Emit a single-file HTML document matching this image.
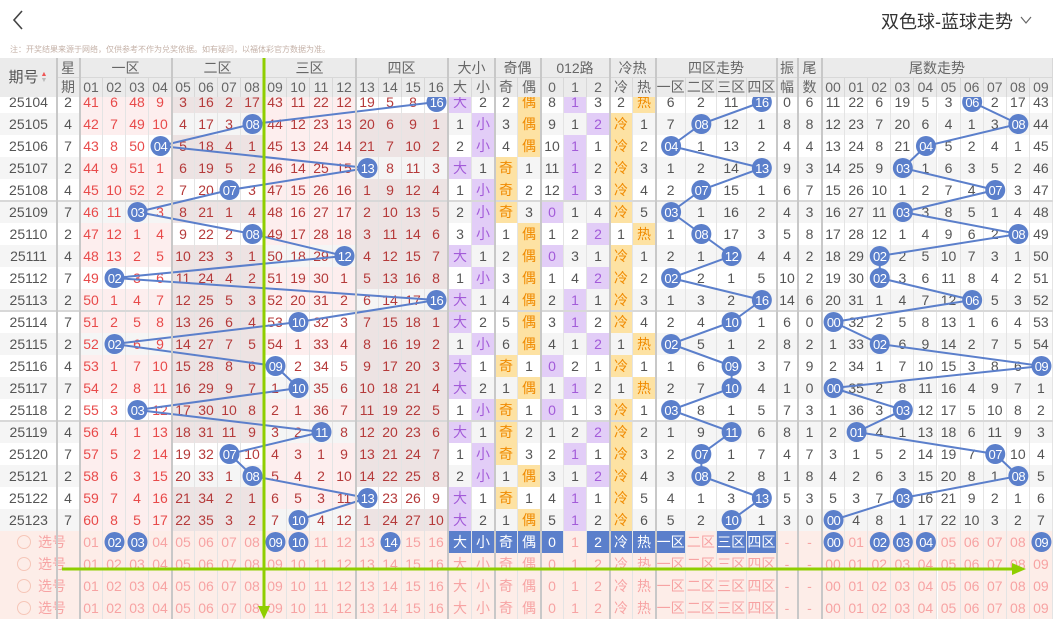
<!DOCTYPE html>
<html><head><meta charset="utf-8">
<style>
body{margin:0;width:1053px;height:619px;overflow:hidden;position:relative;background:#fff;font-family:"Liberation Sans","Noto Sans CJK SC",sans-serif}
.c{position:absolute;box-sizing:border-box;border-right:1px solid #e4e4e4;text-align:center;font-size:14px;line-height:22px;white-space:nowrap;overflow:hidden}
.h{position:absolute;box-sizing:border-box;text-align:center;font-size:14px;color:#666;white-space:nowrap;border-right:1px solid #d8d8d8}
.vl{position:absolute;width:2px;background:#c8c8c8}
.hl{position:absolute;height:2px;background:#d8d8d8;left:0;width:1053px}
</style></head><body>
<div style="position:absolute;left:0;top:0;width:1053px;height:40px;background:#fff"></div>
<svg style="position:absolute;left:10px;top:8px" width="16" height="24"><polyline points="12,3 4,12 12,21" fill="none" stroke="#444" stroke-width="1.6"/></svg>
<div style="position:absolute;left:881px;top:8px;font-size:18px;color:#333">双色球-蓝球走势</div>
<svg style="position:absolute;left:1019px;top:14px" width="14" height="12"><polyline points="2,3 7,9 12,3" fill="none" stroke="#666" stroke-width="1.2"/></svg>
<div style="position:absolute;left:10px;top:44px;font-size:8px;color:#c5b2a8">注：开奖结果来源于网络，仅供参考不作为兑奖依据。如有疑问，以福体彩官方数据为准。</div>
<div id="root"></div>
<script>
const B=[16,8,4,13,7,3,8,12,2,16,10,2,9,10,3,11,7,8,13,10];
const WK=[2,4,7,2,4,7,2,4,7,2,7,2,4,7,2,4,7,2,4,7];
const N=B.length;
const root=document.getElementById('root');
function el(html){root.insertAdjacentHTML('beforeend',html);}
function omit(cats,init){const r=[];r.push(init.map((v,k)=>k===cats[0]?null:v));
 for(let i=1;i<N;i++){r.push(init.map((_,k)=>k===cats[i]?null:(cats[i-1]===k?1:r[i-1][k]+1)));}return r;}
const numO=omit(B.map(b=>b-1),[41,6,48,9,3,16,2,17,43,11,22,12,19,5,8,0]);
const zC=B.map(b=>Math.ceil(b/4)-1);
const zO=omit(zC,[6,2,11,0]);
const tC=B.map(b=>b%10);
const tO=omit(tC,[11,22,6,19,5,3,0,2,17,43]);
const dxC=B.map(b=>b>=9?0:1);const dxO=omit(dxC,[0,2]);
const oeC=B.map(b=>b%2?0:1);const oeO=omit(oeC,[2,0]);
const m3C=B.map(b=>b%3);const m3O=omit(m3C,[8,0,3]);
const hot=[0,6,11,13];const chC=B.map((b,i)=>hot.includes(i)?1:0);const chO=omit(chC,[2,0]);
const nx=k=>80+23*k;
const DX=[449,472],OE=[495,518],M3=[541,564,587],CH=[610,633];
const ZX=k=>656+30.25*k, TX=k=>822+23.1*k;
const PUR='background:#e2cdf7;color:#a35bd9;',YEL='background:#fde2a3;color:#f08a00;';
let svgL='',svgB='';
function ball(cx,cy,t){svgB+=`<circle cx="${cx}" cy="${cy}" r="10" fill="#5b7fcb"/><text x="${cx}" y="${cy+4.8}" text-anchor="middle" font-size="13" fill="#fff" letter-spacing="-0.5" font-family="Liberation Sans">${t}</text>`;}
const pad=v=>(v<10?'0':'')+v;
for(let i=0;i<N;i++){
 const y=91+22*i, cy=y+11, bg=i%2?'#f5f5f5':'#fff';
 el(`<div class="c" style="left:0;top:${y}px;width:57px;height:22px;background:${bg};color:#555;border:none">${25104+i}</div>`);
 el(`<div class="c" style="left:57px;top:${y}px;width:23px;height:22px;background:${bg};color:#555">${WK[i]}</div>`);
 const bz=zC[i];
 for(let k=0;k<16;k++){const z=Math.floor(k/4);
  const cb=z===bz?bg:(z%2?'#ede3e3':'#fdeeee');
  const col=z===0?'#e84a4a':'#b53a3a';
  const v=numO[i][k];
  el(`<div class="c" style="left:${nx(k)}px;top:${y}px;width:23px;height:22px;background:${cb};color:${col}">${v===null?'':v}</div>`);
  if(v===null)ball(nx(k)+11.5,cy,pad(B[i]));
 }
 const grp=(xs,w,cats,O,labels,sty)=>{xs.forEach((x,k)=>{const hit=cats[i]===k;
  el(`<div class="c" style="left:${x}px;top:${y}px;width:${w}px;height:22px;background:${bg};color:#555;${hit?sty:''}">${hit?labels[k]:O[i][k]}</div>`);});};
 grp(DX,23,dxC,dxO,['大','小'],PUR);
 grp(OE,23,oeC,oeO,['奇','偶'],YEL);
 grp(M3,23,m3C,m3O,['0','1','2'],PUR);
 grp(CH,23,chC,chO,['冷','热'],YEL);
 for(let k=0;k<4;k++){const v=zO[i][k];
  el(`<div class="c" style="left:${ZX(k)}px;top:${y}px;width:30.25px;height:22px;background:${bg};color:#555">${v===null?'':v}</div>`);
  if(v===null)ball(ZX(k)+15.1,cy,pad(B[i]));}
 const zf=i===0?0:Math.abs(B[i]-B[i-1]);
 el(`<div class="c" style="left:777px;top:${y}px;width:21px;height:22px;background:${bg};color:#555">${zf}</div>`);
 el(`<div class="c" style="left:798px;top:${y}px;width:24px;height:22px;background:${bg};color:#555">${B[i]%10}</div>`);
 for(let k=0;k<10;k++){const v=tO[i][k];
  el(`<div class="c" style="left:${TX(k)}px;top:${y}px;width:23.1px;height:22px;background:${bg};color:#555">${v===null?'':v}</div>`);
  if(v===null)ball(TX(k)+11.55,cy,pad(k));}
}
// lines
const pl=(f)=>B.map((b,i)=>f(b,i)+','+(102+22*i)).join(' ');
svgL+=`<polyline points="${pl(b=>nx(b-1)+11.5)}" fill="none" stroke="#5b7fcb" stroke-width="2"/>`;
svgL+=`<polyline points="${pl((b,i)=>ZX(zC[i])+15.1)}" fill="none" stroke="#5b7fcb" stroke-width="2"/>`;
svgL+=`<polyline points="${pl((b,i)=>TX(tC[i])+11.55)}" fill="none" stroke="#5b7fcb" stroke-width="2"/>`;
// selection rows
const PK='#f7a3a3',BL='background:#5b7fcb;color:#fff;';
for(let j=0;j<4;j++){const y=531+22*j,cy=y+11,s=j===0;
 el(`<div class="c" style="left:0;top:${y}px;width:80px;height:22px;background:#fdede8;color:${PK};border:none;text-align:left;padding-left:38px">选号</div>`);
 svgB+=`<circle cx="24" cy="${cy}" r="6.5" fill="none" stroke="#f6c6b8" stroke-width="1"/>`;
 const sel=[1,2,8,9,13];
 for(let k=0;k<16;k++){const on=s&&sel.includes(k);
  el(`<div class="c" style="left:${nx(k)}px;top:${y}px;width:23px;height:22px;background:#fdede8;color:${PK}">${on?'':pad(k+1)}</div>`);
  if(on)ball(nx(k)+11.5,cy,pad(k+1));}
 const items=[[449,23,'大',1],[472,23,'小',1],[495,23,'奇',1],[518,23,'偶',1],[541,23,'0',1],[564,23,'1',0],[587,23,'2',1],[610,23,'冷',1],[633,23,'热',1],
  [ZX(0),30.25,'一区',1],[ZX(1),30.25,'二区',0],[ZX(2),30.25,'三区',1],[ZX(3),30.25,'四区',1],[777,21,'-',0],[798,24,'-',0]];
 items.forEach(([x,w,t,on])=>{el(`<div class="c" style="left:${x}px;top:${y}px;width:${w}px;height:22px;background:#fdede8;color:${PK};${s&&on?BL:''}">${t}</div>`);});
 const ts=[0,2,3,4,9];
 for(let k=0;k<10;k++){const on=s&&ts.includes(k);
  el(`<div class="c" style="left:${TX(k)}px;top:${y}px;width:23.1px;height:22px;background:#fdede8;color:${PK}">${on?'':pad(k)}</div>`);
  if(on)ball(TX(k)+11.55,cy,pad(k));}
}
// horizontal separators
[201,311,421].forEach(y=>el(`<div class="hl" style="top:${y-1}px"></div>`));
el(`<svg style="position:absolute;left:0;top:0" width="1053" height="619">${svgL}${svgB}</svg>`);
// header
el(`<div style="position:absolute;left:0;top:58px;width:1053px;height:39px;background:#ebebeb"></div>`);
el(`<div class="h" style="left:0;top:58px;width:57px;height:39px;line-height:39px;color:#555;font-size:15px">期号<span style="display:inline-block;vertical-align:middle;margin-left:2px;line-height:6px;font-size:7px"><span style="color:#e55">▲</span><br><span style="color:#bbb">▼</span></span></div>`);
const H1=(x,w,t)=>el(`<div class="h" style="left:${x}px;top:58px;width:${w}px;height:20px;line-height:20px">${t}</div>`);
const H2=(x,w,t)=>el(`<div class="h" style="left:${x}px;top:78px;width:${w}px;height:19px;line-height:19px">${t}</div>`);
H1(57,23,'星');H2(57,23,'期');
['一区','二区','三区','四区'].forEach((t,k)=>H1(nx(4*k),92,t));
for(let k=0;k<16;k++)H2(nx(k),23,pad(k+1));
H1(449,46,'大小');H1(495,46,'奇偶');H1(541,69,'012路');H1(610,46,'冷热');H1(656,121,'四区走势');H1(777,21,'振');H1(798,24,'尾');H1(822,231,'尾数走势');
[[449,'大'],[472,'小'],[495,'奇'],[518,'偶'],[541,'0'],[564,'1'],[587,'2'],[610,'冷'],[633,'热']].forEach(([x,t])=>H2(x,23,t));
['一区','二区','三区','四区'].forEach((t,k)=>H2(ZX(k),30.25,t));
H2(777,21,'幅');H2(798,24,'数');
for(let k=0;k<10;k++)H2(TX(k),23.1,pad(k));
el(`<div style="position:absolute;left:57px;top:77px;width:996px;height:1px;background:#d8d8d8"></div>`);
// thick verticals
[57,80,172,356,448,495,541,610,656,777,798,822].forEach(x=>el(`<div class="vl" style="left:${x-1}px;top:58px;height:561px"></div>`));
// green arrows
el(`<svg style="position:absolute;left:0;top:0" width="1053" height="619">
<line x1="264" y1="58" x2="264" y2="610" stroke="#8fce00" stroke-width="3"/>
<polygon points="258,606 270,606 264,619" fill="#8fce00"/>
<line x1="62" y1="569" x2="1014" y2="569" stroke="#8fce00" stroke-width="3"/>
<polygon points="1012,563 1012,575 1026,569" fill="#8fce00"/>
</svg>`);
</script>
</body></html>
